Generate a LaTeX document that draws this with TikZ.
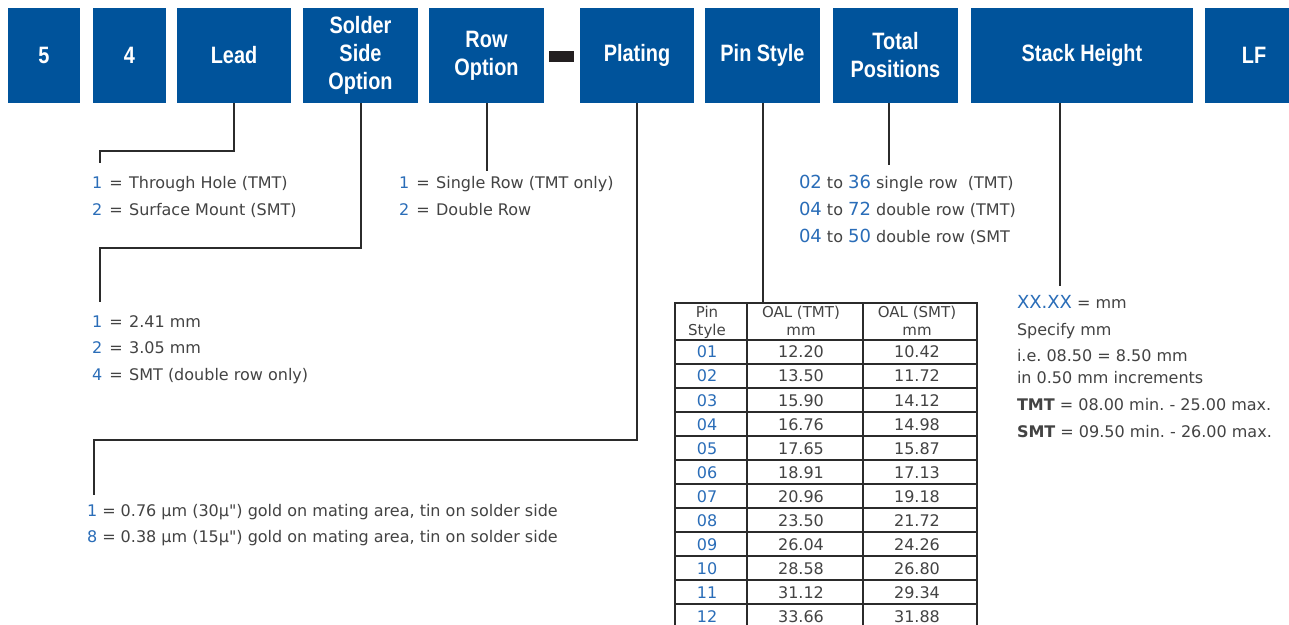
\documentclass[tikz,border=0pt]{standalone}
\usepackage{fontspec}
\setmainfont{DejaVu Sans}
\newfontfamily\boxfont[FakeStretch=0.84]{Liberation Sans}
\definecolor{boxblue}{HTML}{00539B}
\definecolor{numblue}{HTML}{2A6DB8}
\definecolor{txtgray}{HTML}{434343}
\definecolor{linegray}{HTML}{2B2B2B}
\definecolor{dashcol}{HTML}{231F20}
\newcommand\bodytxt{\fontsize{16bp}{19bp}\selectfont\frenchspacing}
\newcommand\headtxt{\fontsize{15bp}{18bp}\selectfont}
\newcommand\boxtxt{\boxfont\bfseries\fontsize{23.7bp}{28bp}\selectfont}
\newcommand\bnum[1]{\textcolor{numblue}{#1}}
\newcommand\bbig[1]{\textcolor{numblue}{\fontsize{18bp}{19bp}\selectfont #1}}
\newcommand\eqs{\hspace{0.45em}=\hspace{0.4em}}
\begin{document}
\begin{tikzpicture}[x=1bp,y=-1bp,
  box/.style={fill=boxblue, text=white, font=\boxtxt, inner sep=0pt, outer sep=0pt, align=center, minimum height=95bp},
  conn/.style={draw=linegray, line width=2bp},
  ln/.style={anchor=base west, inner sep=0pt, outer sep=0pt, font=\bodytxt, text=txtgray},
  cell/.style={anchor=base, inner sep=0pt, outer sep=0pt, font=\bodytxt, text=txtgray},
  hd/.style={anchor=base, inner sep=0pt, outer sep=0pt, font=\headtxt, text=txtgray},
  tbl/.style={draw=linegray, line width=1.5bp}]
\clip (0,0) rectangle (1289,625);
\fill[white] (0,0) rectangle (1289,625);
% header boxes
\node[box, minimum width=72bp]  (b5)      at (44,55.5)    {5};
\node[box, minimum width=73bp]  (b4)      at (129.5,55.5) {4};
\node[box, minimum width=114bp] (lead)    at (234,55.5)   {Lead};
\node[box, minimum width=115bp] (solder)  at (360.5,55.5) {Solder\\Side\\Option};
\node[box, minimum width=115bp] (row)     at (486.5,55.5) {Row\\Option};
\node[fill=dashcol, inner sep=0pt, minimum width=25bp, minimum height=11bp] (dash) at (561.5,56.5) {};
\node[box, minimum width=114bp] (plating) at (637,55.5)   {Plating};
\node[box, minimum width=115bp] (pin)     at (762.5,55.5) {Pin Style};
\node[box, minimum width=125bp] (total)   at (895.5,55.5) {Total\\Positions};
\node[box, minimum width=222bp] (stack)   at (1082,55.5)  {Stack Height};
\node[box, minimum width=98bp]  (lf)      at (1254,55.5)  {LF};
% connector points
\coordinate (leadA) at (234,151);
\coordinate (leadB) at (100,151);
\coordinate (leadEnd) at (100,163);
\coordinate (solA) at (360.5,248);
\coordinate (solB) at (100,248);
\coordinate (solEnd) at (100,302);
\coordinate (rowEnd) at (486.5,171);
\coordinate (platA) at (637,440);
\coordinate (platB) at (94,440);
\coordinate (platEnd) at (94,495);
\coordinate (tabtop) at (762.5,303);
\coordinate (totEnd) at (889,165);
\coordinate (stackEnd) at (1060,286);
\draw[conn] (lead.south) -- (leadA) -- (leadB) -- (leadEnd);
\draw[conn] (solder.south) -- (solA) -- (solB) -- (solEnd);
\draw[conn] (row.south) -- (rowEnd);
\draw[conn] (plating.south) -- (platA) -- (platB) -- (platEnd);
\draw[conn] (pin.south) -- (tabtop);
\draw[conn] (total.south -| totEnd) -- (totEnd);
\draw[conn] (stack.south -| stackEnd) -- (stackEnd);
% option texts
\node[ln] (lead1) at (92,189) {\bnum{1}\eqs Through Hole (TMT)};
\node[ln] (lead2) at (92,216) {\bnum{2}\eqs Surface Mount (SMT)};
\node[ln] (row1) at (399,189) {\bnum{1}\eqs Single Row (TMT only)};
\node[ln] (row2) at (399,216) {\bnum{2}\eqs Double Row};
\node[ln] (sol1) at (92,328) {\bnum{1}\eqs 2.41 mm};
\node[ln] (sol2) at (92,354) {\bnum{2}\eqs 3.05 mm};
\node[ln] (sol3) at (92,381) {\bnum{4}\eqs SMT (double row only)};
\node[ln] (tot1) at (799,189) {\bbig{02} to \bbig{36} single row~ (TMT)};
\node[ln] (tot2) at (799,216) {\bbig{04} to \bbig{72} double row (TMT)};
\node[ln] (tot3) at (799,243) {\bbig{04} to \bbig{50} double row (SMT};
\node[ln] (plat1) at (87,516) {\bnum{1} = 0.76 µm (30µ\textquotedbl) gold on mating area, tin on solder side};
\node[ln] (plat2) at (87,542) {\bnum{8} = 0.38 µm (15µ\textquotedbl) gold on mating area, tin on solder side};
\node[ln] (st1) at (1017,309) {\bbig{XX.XX} = mm};
\node[ln] (st2) at (1017,336) {Specify mm};
\node[ln] (st3) at (1017,362) {i.e. 08.50 = 8.50 mm};
\node[ln] (st4) at (1017,384) {in 0.50 mm increments};
\node[ln] (st5) at (1017,410) {\textbf{TMT} = 08.00 min. - 25.00 max.};
\node[ln] (st6) at (1017,437) {\textbf{SMT} = 09.50 min. - 26.00 max.};
% table
\foreach \k in {0,...,11} \draw[tbl] (675,340+24*\k) -- (977,340+24*\k);
\draw[tbl] (747,303) -- (747,640);
\draw[tbl] (863,303) -- (863,640);
\draw[draw=linegray, line width=2bp] (675,303) rectangle (977,640);
\node[hd] (h1a) at (707,318) {Pin};
\node[hd] (h1b) at (707,336) {Style};
\node[hd] (h2a) at (801,318) {OAL (TMT)};
\node[hd] (h2b) at (801,336) {mm};
\node[hd] (h3a) at (917,318) {OAL (SMT)};
\node[hd] (h3b) at (917,336) {mm};
\foreach \p/\a/\b [count=\i from 0] in {01/12.20/10.42, 02/13.50/11.72, 03/15.90/14.12, 04/16.76/14.98, 05/17.65/15.87, 06/18.91/17.13, 07/20.96/19.18, 08/23.50/21.72, 09/26.04/24.26, 10/28.58/26.80, 11/31.12/29.34, 12/33.66/31.88}{
  \node[cell, text=numblue] (p\i) at (707,358+24*\i) {\p};
  \node[cell] (a\i) at (801,358+24*\i) {\a};
  \node[cell] (c\i) at (917,358+24*\i) {\b};
}
\end{tikzpicture}
\end{document}
